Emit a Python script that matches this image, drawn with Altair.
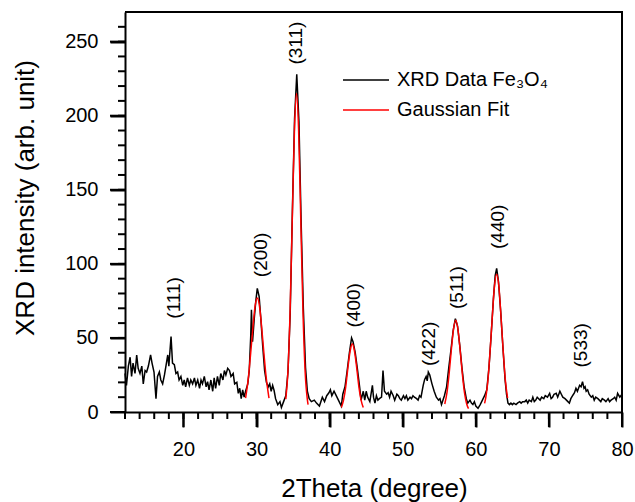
import altair as alt
import pandas as pd

FONT = "Liberation Sans"

xrd_x = [12.0, 12.2, 12.46, 12.7, 12.9, 13.1, 13.37, 13.6, 13.8, 14.05, 14.3, 14.5, 14.75, 14.96,
         15.2, 15.5, 15.7, 15.97, 16.24, 16.45, 16.7, 16.9, 17.15, 17.4, 17.6, 17.85, 18.0, 18.3,
         18.5, 18.75, 18.97, 19.2, 19.4, 19.65, 19.9, 20.1, 20.3, 20.55, 20.8, 21.0, 21.25, 21.5,
         21.7, 21.95, 22.2, 22.4, 22.6, 22.85, 23.1, 23.3, 23.5, 23.75, 24.0, 24.2, 24.4, 24.65,
         24.9, 25.1, 25.4, 25.6, 25.8, 26.05, 26.3, 26.5, 26.8, 27.0, 27.3, 27.5, 27.7, 27.9, 28.1,
         28.3, 28.5, 28.8, 29.0, 29.2, 29.3, 29.45, 29.7, 29.9, 30.1, 30.35, 30.6, 30.85, 31.1,
         31.35, 31.6, 31.8, 32.0, 32.2, 32.4, 32.6, 32.9, 33.2, 33.4, 33.7, 34.0, 34.3, 34.6, 34.9,
         35.2, 35.5, 35.8, 36.1, 36.4, 36.7, 36.95, 37.2, 37.5, 37.9, 38.2, 38.6, 39.0, 39.3, 39.6,
         39.9, 40.1, 40.3, 40.6, 40.9, 41.2, 41.4, 41.6, 41.8, 42.1, 42.4, 42.7, 43.0, 43.2, 43.5,
         43.8, 44.1, 44.3, 44.6, 44.8, 45.0, 45.2, 45.5, 45.85, 46.0, 46.2, 46.4, 46.6, 46.8, 47.1,
         47.3, 47.5, 47.8, 48.0, 48.2, 48.4, 48.7, 48.9, 49.2, 49.4, 49.6, 49.8, 50.1, 50.3, 50.5,
         50.7, 51.0, 51.2, 51.4, 51.6, 51.9, 52.1, 52.3, 52.5, 52.8, 53.0, 53.2, 53.35, 53.5, 53.7,
         54.0, 54.3, 54.6, 54.9, 55.1, 55.3, 55.5, 55.7, 56.0, 56.3, 56.6, 56.9, 57.2, 57.5, 57.8,
         58.1, 58.4, 58.7, 58.9, 59.2, 59.4, 59.6, 59.8, 60.0, 60.3, 60.6, 60.9, 61.2, 61.5, 61.8,
         62.1, 62.4, 62.65, 62.85, 63.1, 63.4, 63.7, 64.0, 64.2, 64.4, 64.6, 64.8, 65.0, 65.2, 65.5,
         65.7, 66.0, 66.2, 66.4, 66.7, 66.9, 67.1, 67.3, 67.6, 67.8, 68.0, 68.2, 68.4, 68.6, 68.8,
         69.0, 69.3, 69.5, 69.8, 70.1, 70.3, 70.5, 70.7, 71.0, 71.2, 71.5, 71.7, 71.9, 72.2, 72.4,
         72.6, 72.8, 73.0, 73.3, 73.5, 73.7, 73.9, 74.2, 74.4, 74.6, 74.8, 74.95, 75.1, 75.3, 75.5,
         75.8, 76.0, 76.2, 76.4, 76.7, 76.9, 77.1, 77.3, 77.6, 77.8, 78.1, 78.3, 78.5, 78.8, 79.0,
         79.2, 79.4, 79.7, 80.0]
xrd_y = [26, 18, 31, 37, 24, 33, 26, 38.5, 29.5, 26, 31, 19, 28, 27,
         31, 38.5, 33, 27, 9, 24, 27, 21.6, 19, 25, 31, 38.5, 31, 51,
         33, 32, 26, 27, 21.6, 24, 18, 21.6, 17, 23, 18, 21.6, 19, 23,
         18, 21.6, 16, 21.6, 19, 24, 17, 20.5, 15, 21.6, 14, 23, 16, 24,
         18, 26, 21.6, 28, 25, 29.5, 28, 24, 26, 19, 20, 12.6, 16, 9, 15,
         10, 14, 19, 28, 51, 69, 47.5, 64, 75, 83.5, 78, 62, 44, 28,
         20, 17, 19, 14, 18, 14.5, 9, 5, 7, 3, 7, 11, 27, 66, 135,
         198, 228, 196, 128, 70, 30, 14, 9, 7, 8, 6, 4, 10, 7, 11,
         13, 15, 11, 14, 11, 8, 6, 4, 12, 17, 28, 40, 50, 47.5, 40,
         29, 17, 8, 14, 8, 14, 10, 7, 18, 10, 6, 11, 8, 9, 10,
         28, 14, 12, 13, 10, 14, 11, 8, 12, 11, 9, 8, 11, 9, 11,
         8, 10, 9, 11, 10, 9, 8, 11, 10, 18, 22, 24, 21, 27, 25,
         19, 14, 10, 8, 9, 5, 8, 11, 17, 30, 42, 55, 63, 58, 45,
         30, 17, 9, 6, 8, 6, 5, 7, 4, 2.5, 5, 8, 11, 15, 30,
         52, 76, 92, 97, 88, 68, 44, 22, 12, 6, 5, 6, 5, 6, 5,
         6, 7, 6, 7, 7, 8, 6, 8, 7, 10, 7, 8, 10, 9, 8,
         10, 9, 11, 10, 12.6, 9, 10, 12, 12.6, 10, 14, 12, 10, 9, 8,
         7, 6, 9, 11.5, 13, 16, 14, 18, 17, 20.5, 16, 17, 14, 15, 12,
         10, 11, 8, 10, 9, 8, 7, 9, 8, 7, 9, 7, 8, 9, 10,
         8, 12.6, 10, 12]

# ---- Gaussian fit curves (one segment per peak) ----
fit_peak = (["200"] * 11 + ["311"] * 12 + ["400"] * 11 + ["511"] * 12 + ["440"] * 12)
fit_x = [28.5, 28.9, 29.2, 29.5, 29.8, 30.1, 30.4, 30.7, 31.0, 31.3, 31.7,
         34.0, 34.3, 34.6, 34.9, 35.2, 35.47, 35.75, 36.05, 36.35, 36.65, 36.95, 37.05,
         41.6, 41.9, 42.2, 42.5, 42.8, 43.1, 43.4, 43.7, 44.0, 44.3, 44.6,
         55.75, 56.05, 56.35, 56.65, 56.95, 57.25, 57.55, 57.85, 58.15, 58.45, 58.75, 59.0,
         61.2, 61.35, 61.65, 61.95, 62.25, 62.55, 62.85, 63.15, 63.45, 63.75, 64.05, 64.35]
fit_y = [9.4, 24, 40, 57, 71.5, 77, 71.5, 57, 40, 24, 9.4,
         8.7, 28, 70, 133, 193, 215, 191, 130, 68, 27, 8.4, 5,
         3, 8, 17, 30, 41, 46, 41, 30, 17, 8, 3,
         5.4, 13, 26, 42, 56, 62, 56, 42, 26, 13, 5.4, 2.3,
         5.8, 9.3, 21, 41, 64, 85, 93, 85, 64, 41, 21, 9.3]

# ---- Miller-index annotations ----
hkl_labels = ["(111)", "(200)", "(311)", "(400)", "(422)", "(511)", "(440)", "(533)"]
hkl_x = [18.7, 30.55, 35.4, 43.4, 53.6, 57.45, 63.0, 74.4]
hkl_y = [77, 106, 249, 72, 46, 84, 125, 45]

series_names = ["XRD Data Fe\u2083O\u2084", "Gaussian Fit"]
series_colors = ["#000000", "#ff0000"]

x_domain = [12, 80]
y_domain = [0, 270]
x_major = [20, 30, 40, 50, 60, 70, 80]
x_minor = list(range(12, 81, 2))
y_major = [0, 50, 100, 150, 200, 250]
y_minor = list(range(0, 261, 10))

df_xrd = pd.DataFrame({"x": xrd_x, "y": xrd_y, "series": series_names[0]})
df_fit = pd.DataFrame({"x": fit_x, "y": fit_y, "peak": fit_peak, "series": series_names[1]})
df_hkl = pd.DataFrame({"x": hkl_x, "y": hkl_y, "label": hkl_labels})
df_xmajor = pd.DataFrame({"x": x_major})
df_ymajor = pd.DataFrame({"y": y_major})
df_xminor = pd.DataFrame({"x": x_minor})
df_yminor = pd.DataFrame({"y": y_minor})
# frame: top edge and right edge of the plot box, taken from the axis domains
df_frame = pd.DataFrame({
    "x": [x_domain[0], x_domain[1], x_domain[1]],
    "y": [y_domain[1], y_domain[1], y_domain[0]],
    "k": [0, 1, 2],
})

xscale = alt.Scale(domain=x_domain, nice=False, zero=False)
yscale = alt.Scale(domain=y_domain, nice=False, zero=False)
cscale = alt.Scale(domain=series_names, range=series_colors)

x_axis = alt.Axis(values=x_major, tickSize=15, tickWidth=2, tickColor="black", grid=False,
                  domainColor="black", domainWidth=2, zindex=1,
                  labelFontSize=20, labelPadding=28, labelBaseline="alphabetic",
                  labelFlush=False, labelFont=FONT, labelColor="black",
                  title="2Theta (degree)", titleFont=FONT, titleColor="black",
                  titleFontWeight="normal", titleFontSize=26, titleBaseline="alphabetic",
                  titleX=249, titleY=84)
y_axis = alt.Axis(values=y_major, tickSize=15, tickWidth=2, tickColor="black", grid=False,
                  domainColor="black", domainWidth=2, zindex=1,
                  labelFontSize=20, labelPadding=12, labelFlush=False,
                  labelFont=FONT, labelColor="black",
                  title="XRD intensity (arb. unit)", titleFont=FONT, titleColor="black",
                  titleFontWeight="normal", titleFontSize=26, titleBaseline="alphabetic",
                  titleX=-92, titleY=185.5)

X = alt.X("x:Q", scale=xscale, axis=x_axis)
Y = alt.Y("y:Q", scale=yscale, axis=y_axis)

legend = alt.Legend(title=None, orient="none", legendX=217, legendY=53, symbolType="stroke",
                    symbolSize=2116, symbolStrokeWidth=1.5, labelFont=FONT, labelFontSize=20,
                    labelColor="black", labelOffset=7, clipHeight=30, rowPadding=0, padding=0)
C = alt.Color("series:N", scale=cscale, legend=legend)

frame = alt.Chart(df_frame).mark_line(color="black", strokeWidth=2, clip=False).encode(
    x=X, y=Y, order="k:Q",
)

black = alt.Chart(df_xrd).mark_line(strokeWidth=1.5).encode(
    x=X, y=Y, color=C, order=alt.Order("x:Q"),
)

red = alt.Chart(df_fit).mark_line(strokeWidth=1.5, interpolate="monotone").encode(
    x=X, y=Y, color=C, detail="peak:N", order=alt.Order("x:Q"),
)

labels = alt.Chart(df_hkl).mark_text(angle=270, font=FONT, fontSize=19, color="black",
                                      align="center", baseline="middle").encode(
    x=X, y=Y, text="label:N",
)

# outward tick marks (major 15 px, minor 7 px)
xmaj = alt.Chart(df_xmajor).mark_tick(color="black", orient="vertical", size=15,
                                      thickness=2, opacity=1, clip=False).encode(
    x=X, y=alt.value(407.5),
)
ymaj = alt.Chart(df_ymajor).mark_tick(color="black", orient="horizontal", size=15,
                                      thickness=2, opacity=1, clip=False).encode(
    y=Y, x=alt.value(-7.5),
)
xmin = alt.Chart(df_xminor).mark_tick(color="black", orient="vertical", size=7,
                                      thickness=2, opacity=1, clip=False).encode(
    x=X, y=alt.value(403.5),
)
ymin = alt.Chart(df_yminor).mark_tick(color="black", orient="horizontal", size=7,
                                      thickness=2, opacity=1, clip=False).encode(
    y=Y, x=alt.value(-3.5),
)

chart = alt.layer(xmaj, ymaj, xmin, ymin, frame, black, red, labels).properties(
    width=497, height=400,
    autosize=alt.AutoSizeParams(type="none"),
    padding={"left": 125, "top": 12, "right": 13, "bottom": 90},
).configure_view(strokeWidth=0)

chart.save("out.html", embed_options={"renderer": "svg", "actions": False})
